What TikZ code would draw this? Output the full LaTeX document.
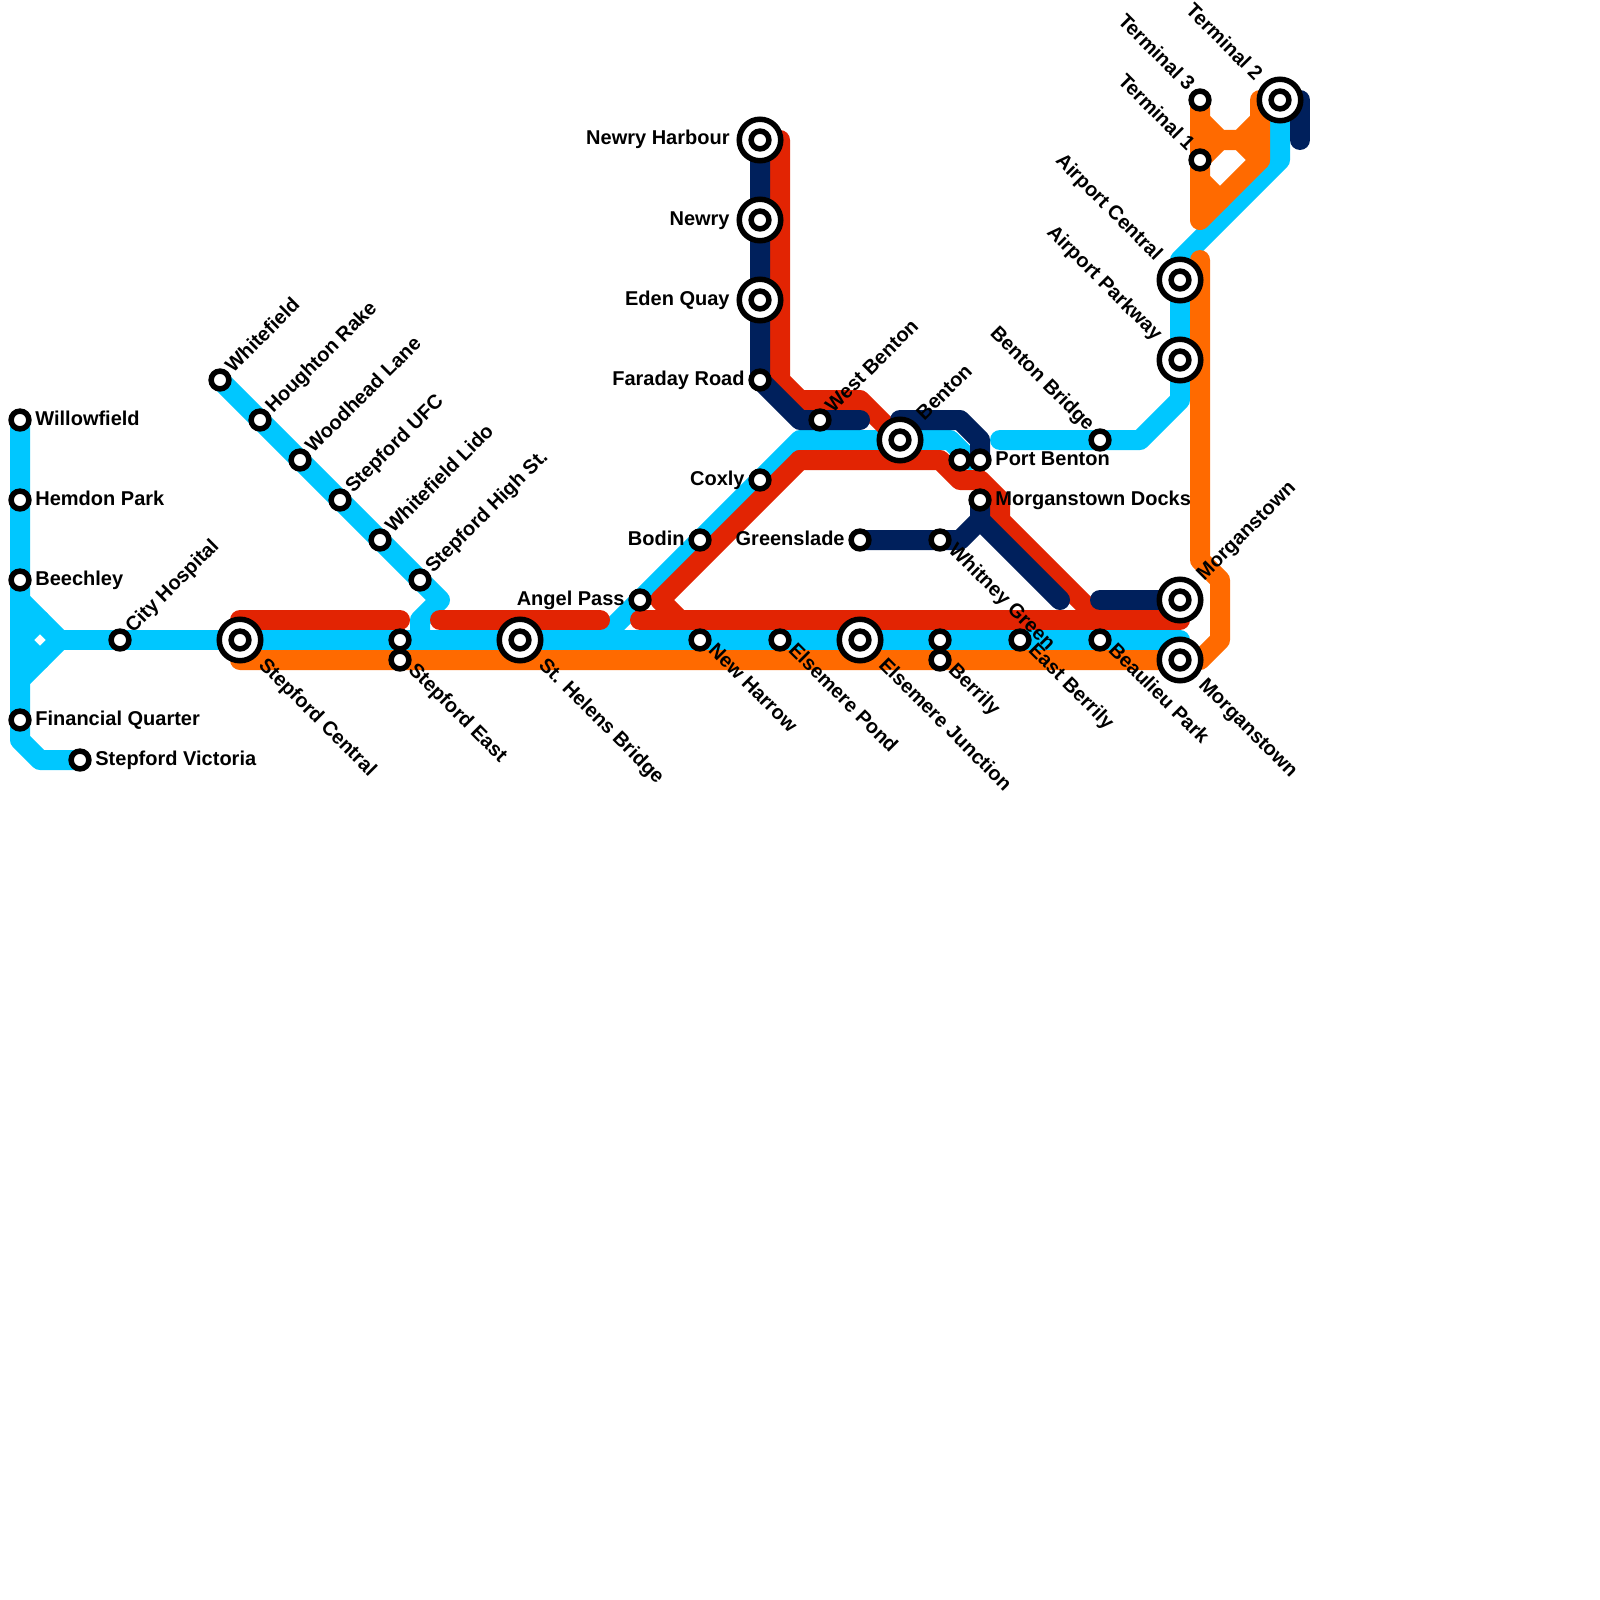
\documentclass[tikz,border=0pt]{standalone}
\usepackage{fontspec}
\setmainfont{Liberation Sans}
\usepackage{xcolor}
\usetikzlibrary{backgrounds}
\definecolor{lineblue}{HTML}{00C7FF}
\definecolor{linered}{HTML}{E22403}
\definecolor{lineorange}{HTML}{FF6A00}
\definecolor{linenavy}{HTML}{00205C}

\begin{document}
\begin{tikzpicture}[
    x=0.5pt, y=-0.5pt,
    metro/.style={line width=10pt, line cap=round, line join=round},
    blueline/.style={metro, lineblue},
    redline/.style={metro, linered},
    orangeline/.style={metro, lineorange},
    navyline/.style={metro, linenavy},
    stn/.style={circle, draw=black, fill=white, line width=2.75pt, minimum size=8.9pt, inner sep=0pt},
    hub/.style={stn, minimum size=20.75pt, label={[stn]center:}},
    lbl/.style={font=\fontsize{10}{10}\selectfont\bfseries, inner sep=0pt, text height=7pt, text depth=2pt},
    lble/.style={lbl, anchor=west, xshift=7.5pt},
    lblw/.style={lbl, anchor=east, xshift=-7.5pt},
    lblwb/.style={lbl, anchor=east, xshift=-15pt},
    lblne/.style={lbl, anchor=west, rotate=45, xshift=6.7pt},
    lblneb/.style={lbl, anchor=west, rotate=45, xshift=15.1pt, yshift=0.5pt},
    lblse/.style={lbl, anchor=west, rotate=-45, xshift=6.5pt, yshift=1.2pt},
    lblseb/.style={lbl, anchor=west, rotate=-45, xshift=15.4pt, yshift=-0.4pt},
    lblnw/.style={lbl, anchor=east, rotate=-45, xshift=-7.4pt, yshift=0.7pt},
    lblnwb/.style={lbl, anchor=east, rotate=-45, xshift=-15.3pt}
]
\useasboundingbox (0,0) rectangle (1600,1600);

% West branch
\node[stn] (willowfield) at (20,420) {};
\node[lble] (willowfieldt) at (willowfield) {Willowfield};
\node[stn] (hemdon) at (20,500) {};
\node[lble] (hemdont) at (hemdon) {Hemdon Park};
\node[stn] (beechley) at (20,580) {};
\node[lble] (beechleyt) at (beechley) {Beechley};
\node[stn] (financial) at (20,720) {};
\node[lble] (financialt) at (financial) {Financial Quarter};
\node[stn] (victoria) at (80,760) {};
\node[lble] (victoriat) at (victoria) {Stepford Victoria};
\node[stn] (hospital) at (120,640) {};
\node[lblne] (hospitalt) at (hospital) {City Hospital};

% Whitefield branch
\node[stn] (whitefield) at (220,380) {};
\node[lblne] (whitefieldt) at (whitefield) {Whitefield};
\node[stn] (houghton) at (260,420) {};
\node[lblne] (houghtont) at (houghton) {Houghton Rake};
\node[stn] (woodhead) at (300,460) {};
\node[lblne] (woodheadt) at (woodhead) {Woodhead Lane};
\node[stn] (ufc) at (340,500) {};
\node[lblne] (ufct) at (ufc) {Stepford UFC};
\node[stn] (lido) at (380,540) {};
\node[lblne] (lidot) at (lido) {Whitefield Lido};
\node[stn] (highst) at (420,580) {};
\node[lblne] (highstt) at (highst) {Stepford High St.};

% Trunk
\node[hub] (central) at (240,640) {};
\node[lblseb] (centralt) at (central) {Stepford Central};
\node[stn] (east) at (400,640) {};
\node[stn] (eastb) at (400,660) {};
\node[lblse] (eastt) at (eastb) {Stepford East};
\node[hub] (helens) at (520,640) {};
\node[lblseb] (helenst) at (helens) {St. Helens Bridge};
\node[stn] (harrow) at (700,640) {};
\node[lblse] (harrowt) at (harrow) {New Harrow};
\node[stn] (pond) at (780,640) {};
\node[lblse] (pondt) at (pond) {Elsemere Pond};
\node[hub] (junction) at (860,640) {};
\node[lblseb] (junctiont) at (junction) {Elsemere Junction};
\node[stn] (berrily) at (940,640) {};
\node[stn] (berrilyb) at (940,660) {};
\node[lblse] (berrilyt) at (berrilyb) {Berrily};
\node[stn] (eastberrily) at (1020,640) {};
\node[lblse] (eastberrilyt) at (eastberrily) {East Berrily};
\node[stn] (beaulieu) at (1100,640) {};
\node[lblse] (beaulieut) at (beaulieu) {Beaulieu Park};
\node[hub] (morganstown) at (1180,660) {};
\node[lblseb] (morganstownt) at (morganstown) {Morganstown};
\node[hub] (morganstownb) at (1180,600) {};
\node[lblneb] (morganstownbt) at (morganstownb) {Morganstown};

% Newry branch
\node[hub] (harbour) at (760,140) {};
\node[lblwb] (harbourt) at (harbour) {Newry Harbour};
\node[hub] (newry) at (760,220) {};
\node[lblwb] (newryt) at (newry) {Newry};
\node[hub] (eden) at (760,300) {};
\node[lblwb] (edent) at (eden) {Eden Quay};
\node[stn] (faraday) at (760,380) {};
\node[lblw] (faradayt) at (faraday) {Faraday Road};
\node[stn] (coxly) at (760,480) {};
\node[lblw] (coxlyt) at (coxly) {Coxly};
\node[stn] (bodin) at (700,540) {};
\node[lblw] (bodint) at (bodin) {Bodin};
\node[stn] (angel) at (640,600) {};
\node[lblw] (angelt) at (angel) {Angel Pass};

% Benton
\node[stn] (westbenton) at (820,420) {};
\node[lblne] (westbentont) at (westbenton) {West Benton};
\node[hub] (benton) at (900,440) {};
\node[lblneb] (bentont) at (benton) {Benton};
\node[stn] (greenslade) at (860,540) {};
\node[lblw] (greensladet) at (greenslade) {Greenslade};
\node[stn] (whitney) at (940,540) {};
\node[lblse] (whitneyt) at (whitney) {Whitney Green};
\node[stn] (portbentonb) at (960,460) {};
\node[stn] (portbenton) at (980,460) {};
\node[lble] (portbentont) at (portbenton) {Port Benton};
\node[stn] (docks) at (980,500) {};
\node[lble] (dockst) at (docks) {Morganstown Docks};
\node[stn] (bridge) at (1100,440) {};
\node[lblnw] (bridget) at (bridge) {Benton Bridge};

% Airport
\node[hub] (parkway) at (1180,360) {};
\node[lblnwb] (parkwayt) at (parkway) {Airport Parkway};
\node[hub] (airport) at (1180,280) {};
\node[lblnwb] (airportt) at (airport) {Airport Central};
\node[stn] (terminala) at (1200,160) {};
\node[lblnw] (terminalat) at (terminala) {Terminal 1};
\node[stn] (terminalc) at (1200,100) {};
\node[lblnw] (terminalct) at (terminalc) {Terminal 3};
\node[hub] (terminalb) at (1280,100) {};
\node[lblnwb] (terminalbt) at (terminalb) {Terminal 2};

% Bends
\coordinate (wa) at (20,740);
\coordinate (wb) at (40,760);
\coordinate (fa) at (20,600);
\coordinate (fb) at (60,640);
\coordinate (fc) at (20,680);
\coordinate (fd) at (20,640);
\coordinate (fe) at (40,620);
\coordinate (ff) at (40,660);
\coordinate (ta) at (1180,640);
\coordinate (la) at (440,600);
\coordinate (lb) at (420,620);
\coordinate (lc) at (420,640);
\coordinate (aa) at (600,640);
\coordinate (ab) at (800,440);
\coordinate (ac) at (950,440);
\coordinate (ad) at (970,460);
\coordinate (ba) at (1000,440);
\coordinate (bb) at (1140,440);
\coordinate (bc) at (1180,400);
\coordinate (bd) at (1180,260);
\coordinate (be) at (1280,160);
\coordinate (ra) at (240,620);
\coordinate (rb) at (400,620);
\coordinate (rc) at (440,620);
\coordinate (rd) at (600,620);
\coordinate (re) at (640,620);
\coordinate (rf) at (1180,620);
\coordinate (rg) at (800,460);
\coordinate (rh) at (660,600);
\coordinate (ri) at (680,620);
\coordinate (rj) at (940,460);
\coordinate (rk) at (960,480);
\coordinate (rl) at (980,480);
\coordinate (rm) at (1000,500);
\coordinate (rn) at (1000,520);
\coordinate (ro) at (1100,620);
\coordinate (rp) at (780,140);
\coordinate (rq) at (780,380);
\coordinate (rr) at (800,400);
\coordinate (rs) at (860,400);
\coordinate (na) at (800,420);
\coordinate (nb) at (860,420);
\coordinate (nc) at (900,420);
\coordinate (nd) at (960,420);
\coordinate (ne) at (980,440);
\coordinate (nf) at (980,520);
\coordinate (ng) at (1060,600);
\coordinate (nh) at (960,540);
\coordinate (ni) at (1100,600);
\coordinate (nj) at (1300,100);
\coordinate (nk) at (1300,140);
\coordinate (oa) at (240,660);
\coordinate (ob) at (1200,660);
\coordinate (oc) at (1220,640);
\coordinate (od) at (1220,580);
\coordinate (oe) at (1200,560);
\coordinate (of) at (1200,260);
\coordinate (og) at (1200,220);
\coordinate (oh) at (1260,160);
\coordinate (oi) at (1260,100);
\coordinate (oj) at (1200,120);
\coordinate (ok) at (1220,140);
\coordinate (ol) at (1240,140);
\coordinate (om) at (1260,120);
\coordinate (on) at (1200,180);
\coordinate (oo) at (1220,200);

% Lines, under the stations
\begin{scope}[on background layer]
\draw[blueline] (willowfield.center) -- (wa) -- (wb) -- (victoria.center);
\draw[blueline] (fa) -- (fb) -- (fc);
\draw[blueline] (fe) -- (fd) -- (ff);
\draw[blueline] (fb) -- (ta);
\draw[blueline] (whitefield.center) -- (la) -- (lb) -- (lc);
\draw[blueline] (aa) -- (ab) -- (ac) -- (ad);
\draw[blueline] (ba) -- (bb) -- (bc) -- (bd) -- (be) -- (terminalb.center);

\draw[redline] (ra) -- (rb);
\draw[redline] (rc) -- (rd);
\draw[redline] (re) -- (rf);
\draw[redline] (rg) -- (rh) -- (ri);
\draw[redline] (rg) -- (rj) -- (rk) -- (rl) -- (rm) -- (rn) -- (ro);
\draw[redline] (rp) -- (rq) -- (rr) -- (rs) -- (benton.center);

\draw[navyline] (harbour.center) -- (faraday.center) -- (na) -- (nb);
\draw[navyline] (nc) -- (nd) -- (ne) -- (portbenton.center);
\draw[navyline] (docks.center) -- (nf) -- (ng);
\draw[navyline] (greenslade.center) -- (nh) -- (nf);
\draw[navyline] (ni) -- (morganstownb.center);
\draw[navyline] (nj) -- (nk);

\draw[orangeline] (oa) -- (morganstown.center) -- (ob) -- (oc) -- (od) -- (oe) -- (of);
\draw[orangeline] (terminalc.center) -- (og) -- (oh) -- (oi);
\draw[orangeline] (oj) -- (ok) -- (ol) -- (om);
\draw[orangeline] (terminala.center) -- (ok);
\draw[orangeline] (ol) -- (oh);
\draw[orangeline] (on) -- (oo);
\end{scope}

\end{tikzpicture}
\end{document}
